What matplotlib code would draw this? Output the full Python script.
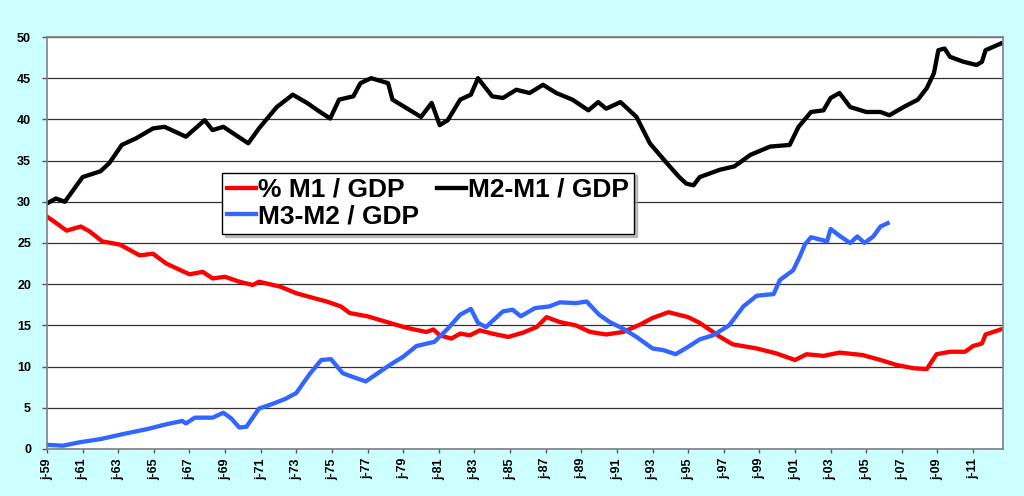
import matplotlib
matplotlib.use('Agg')
import matplotlib.pyplot as plt

# values (fractional year, % of GDP)
m1_years = [1959.0, 1959.4, 1960.1, 1960.9, 1961.4, 1962.1, 1963.1, 1964.2, 1964.95, 1965.7,
            1967.0, 1967.75, 1968.3, 1969.0, 1969.8, 1970.55, 1970.9, 1972.1, 1973.0, 1974.0,
            1974.7, 1975.5, 1976.0, 1977.0, 1978.25, 1979.2, 1980.3, 1980.7, 1981.05, 1981.7,
            1982.2, 1982.75, 1983.3, 1984.0, 1984.9, 1985.7, 1986.5, 1987.05, 1987.8, 1988.7,
            1989.5, 1990.4, 1991.35, 1992.3, 1993.0, 1993.9, 1995.0, 1995.65, 1996.8, 1997.5,
            1998.85, 1999.95, 2001.0, 2001.65, 2002.6, 2003.5, 2004.8, 2005.8, 2006.7, 2007.65,
            2008.4, 2008.95, 2009.7, 2010.55, 2011.0, 2011.5, 2011.7, 2012.55]
m1_gdp = [28.2, 27.6, 26.5, 27.0, 26.4, 25.2, 24.8, 23.5, 23.7, 22.5,
          21.2, 21.5, 20.7, 20.9, 20.3, 19.9, 20.3, 19.7, 18.9, 18.3,
          17.9, 17.3, 16.5, 16.1, 15.3, 14.7, 14.2, 14.5, 13.8, 13.4,
          14.0, 13.8, 14.4, 14.0, 13.6, 14.1, 14.8, 16.0, 15.4, 15.0,
          14.2, 13.9, 14.2, 15.1, 15.9, 16.6, 16.0, 15.3, 13.6, 12.7,
          12.2, 11.6, 10.8, 11.5, 11.3, 11.7, 11.4, 10.8, 10.2, 9.8,
          9.7, 11.5, 11.8, 11.8, 12.5, 12.8, 13.9, 14.5]

m2m1_years = [1959.0, 1959.5, 1960.0, 1961.0, 1962.0, 1962.5, 1963.2, 1964.0, 1964.95, 1965.6,
              1966.8, 1967.85, 1968.3, 1968.9, 1970.3, 1970.9, 1971.9, 1972.8, 1973.6, 1974.2,
              1974.9, 1975.4, 1976.2, 1976.6, 1977.2, 1978.15, 1978.4, 1980.0, 1980.6, 1981.05,
              1981.5, 1982.2, 1982.8, 1983.2, 1984.0, 1984.6, 1985.35, 1986.1, 1986.85, 1987.6,
              1988.5, 1989.4, 1989.95, 1990.4, 1991.2, 1992.1, 1992.85, 1993.8, 1994.5, 1994.9,
              1995.3, 1995.65, 1996.8, 1997.6, 1998.5, 1999.6, 2000.7, 2001.2, 2001.9, 2002.6,
              2003.0, 2003.5, 2004.1, 2005.0, 2005.8, 2006.3, 2007.1, 2007.9, 2008.4, 2008.8,
              2009.05, 2009.4, 2009.7, 2010.45, 2011.2, 2011.5, 2011.7, 2012.55]
m2m1_gdp = [29.8, 30.4, 30.0, 33.0, 33.7, 34.7, 36.9, 37.7, 38.9, 39.1,
            37.9, 39.9, 38.7, 39.1, 37.1, 38.9, 41.5, 43.0, 42.0, 41.1,
            40.1, 42.4, 42.8, 44.4, 45.0, 44.4, 42.4, 40.3, 42.0, 39.3,
            39.9, 42.4, 43.0, 45.0, 42.8, 42.6, 43.6, 43.2, 44.2, 43.2,
            42.4, 41.1, 42.1, 41.3, 42.1, 40.3, 37.1, 34.7, 33.0, 32.2,
            32.0, 33.0, 33.9, 34.3, 35.7, 36.7, 36.9, 39.1, 40.9, 41.1,
            42.6, 43.2, 41.5, 40.9, 40.9, 40.5, 41.5, 42.4, 43.8, 45.6,
            48.4, 48.6, 47.6, 47.0, 46.6, 47.0, 48.4, 49.2]

m3m2_years = [1959.0, 1959.9, 1960.8, 1962.0, 1963.25, 1964.6, 1965.7, 1966.6, 1966.8, 1967.3,
              1968.3, 1968.9, 1969.35, 1969.8, 1970.2, 1970.9, 1971.7, 1972.4, 1973.0, 1973.75,
              1974.4, 1974.95, 1975.6, 1976.1, 1976.9, 1978.25, 1979.0, 1979.75, 1980.75, 1981.5,
              1982.2, 1982.8, 1983.2, 1983.65, 1984.6, 1985.15, 1985.6, 1986.4, 1987.2, 1987.8,
              1988.7, 1989.3, 1990.0, 1990.6, 1991.35, 1992.1, 1993.0, 1993.6, 1994.3, 1995.0,
              1995.65, 1996.4, 1997.3, 1998.1, 1998.85, 1999.8, 2000.15, 2000.9, 2001.3, 2001.55,
              2001.9, 2002.8, 2003.0, 2003.55, 2004.1, 2004.5, 2004.9, 2005.4, 2005.8, 2006.2]
m3m2_gdp = [0.5, 0.4, 0.8, 1.2, 1.8, 2.4, 3.0, 3.4, 3.1, 3.8,
            3.8, 4.4, 3.7, 2.6, 2.7, 4.9, 5.5, 6.1, 6.8, 9.1,
            10.8, 10.9, 9.2, 8.8, 8.2, 10.2, 11.2, 12.5, 13.0, 14.6,
            16.3, 17.0, 15.3, 14.8, 16.7, 16.9, 16.1, 17.1, 17.3, 17.8,
            17.7, 17.9, 16.3, 15.4, 14.6, 13.6, 12.2, 12.0, 11.5, 12.4,
            13.3, 13.8, 15.0, 17.3, 18.6, 18.8, 20.5, 21.7, 23.5, 24.8,
            25.7, 25.2, 26.7, 25.8, 25.0, 25.8, 25.0, 25.8, 27.0, 27.4]

tick_years = list(range(1959, 2012, 2))
tick_labels = ['j-%02d' % (y % 100) for y in tick_years]

plt.rcParams['font.family'] = ['Liberation Sans', 'DejaVu Sans']
plt.rcParams['font.weight'] = 'bold'

fig = plt.figure(figsize=(10.24, 4.96), dpi=100, facecolor='#ccffff')
ax = fig.add_axes([0.0459, 0.0948, 0.9336, 0.8306])
ax.set_facecolor('white')

ax.yaxis.grid(True, color='#333333', linewidth=0.9)
ax.set_axisbelow(True)

l1, = ax.plot(m1_years, m1_gdp, color='#ff0000', lw=3.1, label='% M1 / GDP')
l2, = ax.plot(m2m1_years, m2m1_gdp, color='black', lw=3.1, label='M2-M1 / GDP')
l3, = ax.plot(m3m2_years, m3m2_gdp, color='#3366ff', lw=3.1, label='M3-M2 / GDP')

ax.set_xlim(1959, 2012.68)
ax.set_ylim(0, 50)
ax.set_yticks(range(0, 51, 5))
ax.set_xticks(tick_years)
ax.set_xticklabels(tick_labels, rotation=90, fontsize=9, fontweight='bold')
for t in ax.get_yticklabels():
    t.set_fontsize(9)
    t.set_fontweight('bold')
ax.tick_params(axis='x', direction='out', length=3, width=1, color='#555555', pad=3.5)
ax.tick_params(axis='y', direction='out', length=3.5, width=1, color='#555555', pad=8)
for s in ax.spines.values():
    s.set_color('#808080')
    s.set_linewidth(1.2)

leg = ax.legend(handles=[l1, l3, l2], ncol=2, loc='upper left',
                bbox_to_anchor=(0.183, 0.671), borderaxespad=0,
                prop={'size': 19, 'weight': 'bold'}, frameon=True, fancybox=False,
                edgecolor='black', framealpha=1, shadow={'color': '#999999', 'alpha': 0.6},
                handlelength=1.1, handletextpad=0.05, columnspacing=0.7,
                labelspacing=0.1, borderpad=0.2)
leg.get_frame().set_linewidth(1.0)

fig.savefig('out.png', dpi=100, facecolor=fig.get_facecolor())
